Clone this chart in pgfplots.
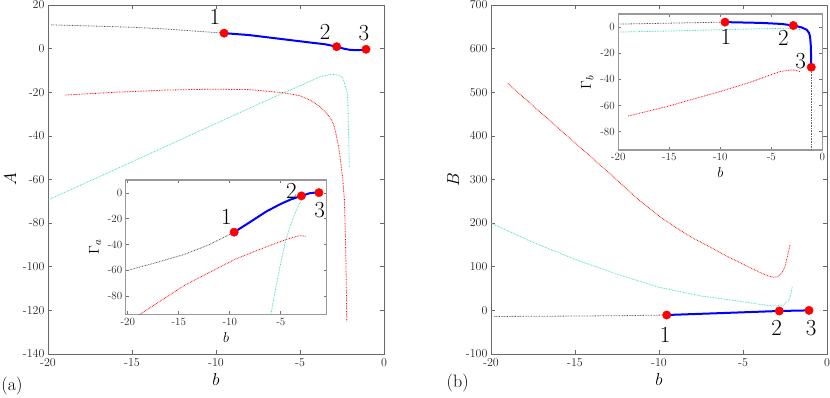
\documentclass[border=0pt]{standalone}
\usepackage{fontspec}
\usepackage{pgfplots}
\pgfplotsset{compat=1.18}
\definecolor{turq}{RGB}{60,220,195}
\definecolor{axgray}{RGB}{105,105,105}

\pgfplotsset{
  mainax/.style={scale only axis, width=336pt, height=349pt, anchor=south west,
    xmin=-20, xmax=0, xtick={-20,-15,...,0},
    axis line style={axgray, line width=0.6pt}, tick style={axgray, line width=0.6pt},
    tick align=inside, major tick length=4pt,
    ticklabel style={font=\fontsize{12}{14}\selectfont, text=black!85},
    xticklabel style={yshift=-1pt},
    /pgf/number format/assume math mode=true,
    label style={font=\fontsize{16}{19}\selectfont}},
  inax/.style={scale only axis, anchor=south west, ymin=-94, ymax=10,
    ytick={-80,-60,...,0}, xtick={-20,-15,...,0},
    axis line style={black!40, line width=1.2pt}, tick style={black!55, line width=0.6pt},
    tick align=inside, major tick length=3pt,
    axis background/.style={fill=white},
    ticklabel style={font=\fontsize{11}{13}\selectfont, text=black!85},
    /pgf/number format/assume math mode=true,
    label style={font=\fontsize{15}{18}\selectfont}},
  dots/.style={line width=0.8pt, dash pattern=on 0.7pt off 0.9pt},
  bl/.style={blue, line width=2pt},
  pts/.style={only marks, mark=*, mark size=4.2pt, red, mark options={draw=red, fill=red}},
}
\tikzset{num/.style={font=\fontsize{23}{26}\selectfont}}

\begin{document}
\begin{tikzpicture}
% ---------- panel (a) ----------
\begin{axis}[mainax, at={(48pt,-354pt)}, ymin=-140, ymax=20, ytick={-140,-120,...,20},
  xlabel={$b$}, ylabel={$A$}]
\addplot[dots, black!70] coordinates {(-19.8,10.9) (-17.5,10.4) (-15,9.8) (-13,9.0) (-11,7.9) (-9.52,7.1)};
\addplot[dots, red] coordinates {(-19,-21.3) (-16,-20) (-13,-19) (-10.2,-18.6) (-8,-18.8) (-6,-20.2)
  (-5,-21.6) (-4.4,-23.6) (-3.81,-26.6) (-3.4,-29.8) (-3.12,-32.7) (-2.95,-36) (-2.82,-40.4) (-2.7,-45)
  (-2.62,-49.5) (-2.46,-59.4) (-2.36,-69) (-2.3,-85) (-2.25,-105) (-2.22,-125)};
\addplot[dots, turq] coordinates {(-20,-69.4) (-15,-51.9) (-10,-34.3) (-6,-20.3) (-4.9,-16.7) (-3.81,-12.9)
  (-3.3,-12) (-3.02,-11.8) (-2.75,-12.1) (-2.52,-12.9) (-2.4,-14.5) (-2.32,-16.7) (-2.18,-20.5)
  (-2.14,-28) (-2.12,-35.8) (-2.06,-54.6)};
\addplot[bl] coordinates {(-9.52,7.1) (-8,6.2) (-6.2,4.5) (-4.5,2.9) (-3.5,2.0) (-2.82,0.9) (-2.4,0.0)
  (-2.0,-0.6) (-1.5,-0.7) (-1.25,-0.5) (-1.07,-0.3)};
\addplot[pts] coordinates {(-9.52,7.1) (-2.82,0.9) (-1.07,-0.3)};
\node[num] at (axis cs:-10.06,14.4) {1};
\node[num] at (axis cs:-3.51,7.8) {2};
\node[num] at (axis cs:-1.19,7.0) {3};
\end{axis}
% inset (a)
\begin{axis}[inax, at={(125.7pt,-314.3pt)}, width=201pt, height=134.3pt,
  xmin=-20.2, xmax=-0.5, xlabel={$b$}, ylabel={$\Gamma_a$}]
\addplot[dots, black!70] coordinates {(-19.8,-59.5) (-17,-53.5) (-14.4,-47.5) (-12,-40) (-9.57,-30.4)};
\addplot[dots, red] coordinates {(-19.3,-97) (-18.87,-94.3) (-14.4,-71.4) (-9.5,-51.4) (-6.5,-42)
  (-4.6,-36.4) (-3.3,-33.3) (-2.9,-33.2) (-2.5,-33.8)};
\addplot[dots, turq] coordinates {(-6.05,-97) (-5.98,-94.3) (-5.5,-74) (-5,-54) (-4.5,-36) (-4,-24)
  (-3.5,-14) (-3.1,-7) (-2.8,-3.5)};
\addplot[bl] coordinates {(-9.57,-30.4) (-8,-22.5) (-6.4,-14.3) (-5,-8.5) (-4,-5) (-2.98,-2.3)
  (-2.2,-0.3) (-1.6,0.3) (-1.26,0.2)};
\addplot[pts] coordinates {(-9.57,-30.4) (-2.98,-2.3) (-1.26,0.2)};
\node[num] at (axis cs:-10.32,-18.2) {1};
\node[num] at (axis cs:-3.96,1.2) {2};
\node[num] at (axis cs:-1.19,-13.6) {3};
\end{axis}
% ---------- panel (b) ----------
\begin{axis}[mainax, at={(491pt,-354pt)}, ymin=-100, ymax=700, ytick={-100,0,...,700},
  xlabel={$b$}, ylabel={$B$}]
\addplot[dots, black!70] coordinates {(-19.8,-14) (-15,-13) (-12,-12) (-9.54,-10.6)};
\addplot[dots, red] coordinates {(-19,520) (-17,452) (-15,384) (-13,316) (-11.2,253) (-10,216)
  (-9,190) (-8,166) (-7,146) (-6,125) (-5,106) (-4,87) (-3.5,79) (-3.2,76) (-2.95,77) (-2.7,85)
  (-2.5,100) (-2.35,125) (-2.2,150)};
\addplot[dots, turq] coordinates {(-20,200) (-17.5,156) (-15,117) (-12.5,83) (-10,53) (-7.5,33)
  (-5,20) (-4,14) (-3.2,10) (-2.6,12) (-2.3,22) (-2.2,30) (-2.12,42) (-2.07,54)};
\addplot[bl] coordinates {(-9.54,-10.6) (-6,-5.8) (-2.84,-1.4) (-1.07,0)};
\addplot[pts] coordinates {(-9.54,-10.6) (-2.84,-1.4) (-1.07,0)};
\node[num] at (axis cs:-9.64,-56) {1};
\node[num] at (axis cs:-2.99,-41) {2};
\node[num] at (axis cs:-0.95,-41) {3};
\end{axis}
% inset (b)
\begin{axis}[inax, at={(618.3pt,-150pt)}, width=204pt, height=136pt,
  xmin=-20, xmax=0, xlabel={$b$}, ylabel={$\Gamma_b$}]
\addplot[dots, black!70] coordinates {(-19.83,2.3) (-15,3) (-9.54,3.8)};
\addplot[dots, black!60] coordinates {(-1.08,-30.7) (-1.08,-94)};
\addplot[dots, turq] coordinates {(-19.83,-3.8) (-15,-3) (-10.35,-2.1) (-6.12,-1.3) (-3.5,-0.9) (-2.6,-1.3) (-2,-2.1)};
\addplot[dots, red] coordinates {(-19.02,-68) (-15.25,-60.8) (-10.03,-49.3) (-7,-42) (-4.15,-34)
  (-3.3,-33) (-2.84,-32.7) (-2.19,-34)};
\addplot[bl] coordinates {(-9.54,3.8) (-6,3.2) (-4,2.4) (-2.84,1.2) (-2,-0.3) (-1.53,-2.1) (-1.3,-4.5)
  (-1.2,-7.2) (-1.12,-15) (-1.08,-30.7)};
\addplot[pts] coordinates {(-9.54,3.8) (-2.84,1.2) (-1.08,-30.7)};
\node[num] at (axis cs:-9.44,-7.2) {1};
\node[num] at (axis cs:-3.82,-8.4) {2};
\node[num] at (axis cs:-2.12,-25.8) {3};
\end{axis}
\node[font=\fontsize{18}{21}\selectfont] at (12pt,-386pt) {(a)};
\node[font=\fontsize{18}{21}\selectfont] at (457.7pt,-383.3pt) {(b)};
\pgfresetboundingbox
\path[use as bounding box] (0,0) rectangle (830pt,-397pt);
\end{tikzpicture}
\end{document}
